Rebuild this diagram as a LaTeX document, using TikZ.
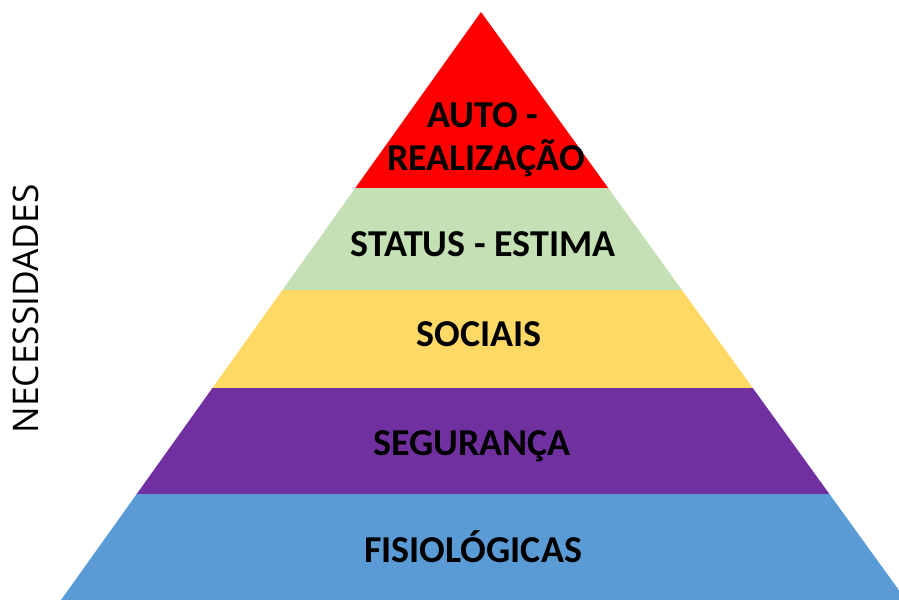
\documentclass[tikz,border=0pt]{standalone}
\usepackage{fontspec}
\newfontfamily\calibri{Carlito}
\newfontfamily\opensans{Open Sans}
\usepackage{xcolor}
\definecolor{autored}{RGB}{255,0,0}
\definecolor{estimagreen}{RGB}{197,224,180}
\definecolor{socialyellow}{RGB}{255,217,102}
\definecolor{segpurple}{RGB}{112,48,160}
\definecolor{fisioblue}{RGB}{91,155,213}
\usetikzlibrary{positioning}
\tikzset{
  level/.style={font=\calibri\bfseries\fontsize{28.5}{32}\selectfont,
    anchor=base, inner sep=0pt},
  axislabel/.style={font=\opensans\fontsize{26.5}{30}\selectfont,
    anchor=base, inner sep=0pt, rotate=90}
}

\begin{document}
\begin{tikzpicture}[x=0.75pt,y=-0.75pt]
    \useasboundingbox (0,0) rectangle (899,600);
    \begin{scope}
        \clip (481,12) -- (61,600) -- (906,600) -- cycle;
        \fill[autored] (0,0) rectangle (899,188.5);
        \fill[estimagreen] (0,188) rectangle (899,290.5);
        \fill[socialyellow] (0,290) rectangle (899,388.5);
        \fill[segpurple] (0,388) rectangle (899,494.5);
        \fill[fisioblue] (0,494) rectangle (899,600);
    \end{scope}
    % levels of the pyramid
    \node[level] (auto) at (483,127) {AUTO -};
    \node[level] (realiz) at (486,170) {REALIZAÇÃO};
    \node[level] (status) at (483,256) {STATUS - ESTIMA};
    \node[level] (sociais) at (479,346) {SOCIAIS};
    \node[level] (seguranca) at (472,455) {SEGURANÇA};
    \node[level] (fisio) at (473,562) {FISIOLÓGICAS};
    \node[axislabel] (necess) at (38,309) {NECESSIDADES};
\end{tikzpicture}
\end{document}
